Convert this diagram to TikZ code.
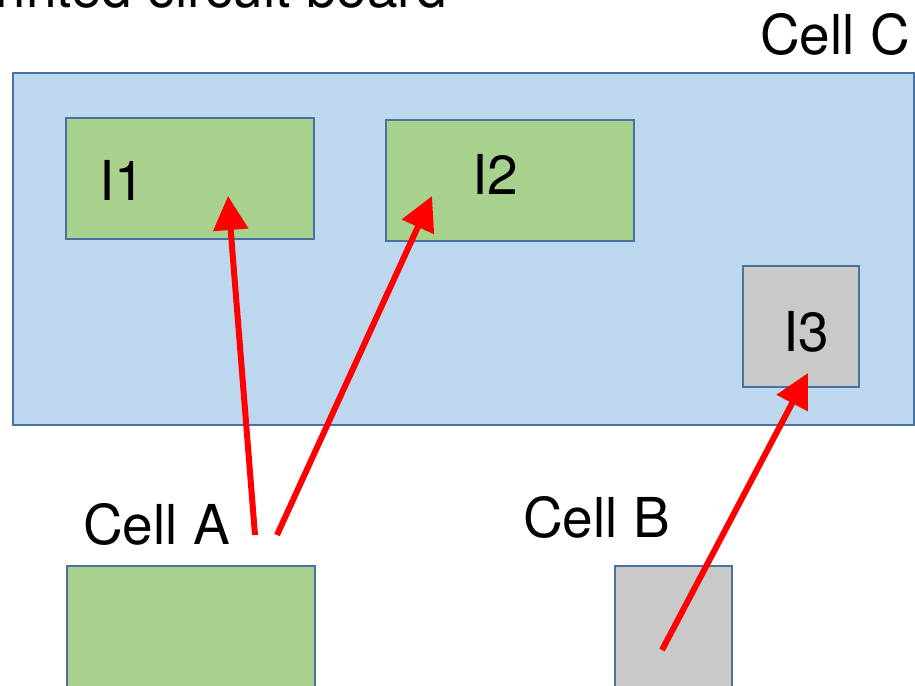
\documentclass[tikz,border=0pt]{standalone}
\usepackage{fontspec}
\setmainfont{TeX Gyre Heros}
\usetikzlibrary{arrows.meta}
\definecolor{boardblue}{HTML}{BDD7EE}
\definecolor{edgeblue}{HTML}{4A72A0}
\definecolor{cellgreen}{HTML}{A9D18E}
\definecolor{cellgray}{HTML}{C9C9C9}
\tikzset{
  box/.style={draw=edgeblue, line width=2pt, inner sep=0pt, anchor=north west},
  lbl/.style={inner sep=0pt, font=\fontsize{55}{62}\selectfont},
  link/.style={draw=red, line width=6pt, -{Triangle[length=34pt,width=34pt]}},
}
\begin{document}
\begin{tikzpicture}[x=1pt,y=-1pt]
\useasboundingbox (0,0) rectangle (915,685);
\node[lbl, anchor=base east] (title) at (447,8) {Printed circuit board};
\node[box, fill=boardblue, minimum width=901pt, minimum height=352pt] (board) at (12,72) {};
\node[lbl, anchor=base east] (cellC) at (910,55) {Cell C};
\node[box, fill=cellgreen, minimum width=248pt, minimum height=121pt] (i1) at (65,117) {};
\node[box, fill=cellgreen, minimum width=248pt, minimum height=121pt] (i2) at (385,119) {};
\node[box, fill=cellgray, minimum width=116pt, minimum height=121pt] (i3) at (742,265) {};
\node[lbl, anchor=base west] (t1) at (99,200) {I1};
\node[lbl, anchor=base west] (t2) at (472,194) {I2};
\node[lbl, anchor=base west] (t3) at (783,351) {I3};
\node[box, fill=cellgreen, minimum width=248pt, minimum height=140pt] (cellA) at (66,565) {};
\node[box, fill=cellgray, minimum width=117pt, minimum height=140pt] (cellB) at (614,565) {};
\node[lbl, anchor=base west] (la) at (83,544) {Cell A};
\node[lbl, anchor=base west] (lb) at (523,537) {Cell B};
\coordinate (a1) at (255,535);
\coordinate (a2) at (277,535);
\coordinate (b1) at (662,650);
\coordinate (p1) at (228,196);
\coordinate (p2) at (432,196);
\coordinate (p3) at (808,373);
\draw[link] (a1) -- (p1);
\draw[link] (a2) -- (p2);
\draw[link] (b1) -- (p3);
\end{tikzpicture}
\end{document}
